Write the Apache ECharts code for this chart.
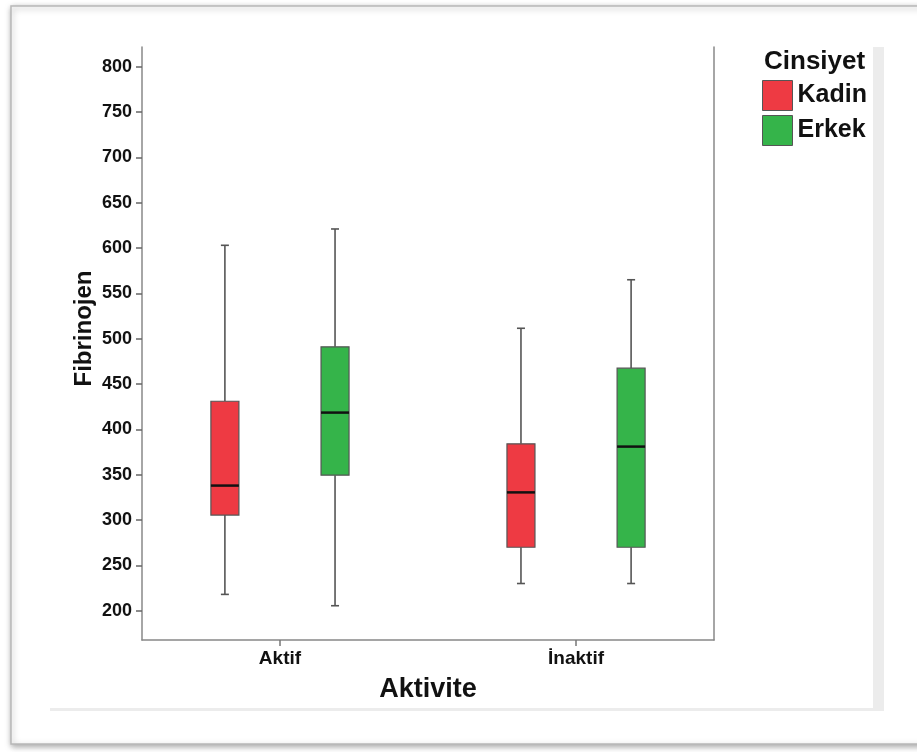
<!DOCTYPE html>
<html>
<head>
<meta charset="utf-8">
<script src="https://cdn.jsdelivr.net/npm/echarts@6/dist/echarts.min.js"></script>
<style>
html,body{margin:0;padding:0;background:#fff;}
#main{width:917px;height:752px;}
</style>
</head>
<body>
<div id="main"></div>
<script>
// ---- data ----
const categories = ['Aktif', 'İnaktif'];
const groups = ['Kadin', 'Erkek'];
// [min, Q1, median, Q3, max] per category
const kadinBoxes = [
  [218, 305.5, 338, 431, 603],
  [230, 270, 330.5, 384, 511.5]
];
const erkekBoxes = [
  [205.5, 349.5, 418.5, 491, 621],
  [230, 270, 381, 467.5, 565]
];
const yTicks = [200, 250, 300, 350, 400, 450, 500, 550, 600, 650, 700, 750, 800];
const groupColors = ['#EE3A43', '#35B44A'];

const FONT = "'Liberation Sans', Arial, sans-serif";
const chart = echarts.init(document.getElementById('main'), null, {renderer: 'canvas'});

function makeRender(offsetUnits) {
  return function (params, api) {
    const i = api.value(0);
    const vMin = api.value(1), q1 = api.value(2), med = api.value(3), q3 = api.value(4), vMax = api.value(5);
    const unit = api.size([1, 0])[0];
    const cx = api.coord([i, 0])[0] + offsetUnits * unit;
    const half = 0.0473 * unit;
    const cap = 4;
    const y = v => api.coord([i, v])[1];
    const color = api.visual('color');
    const lineStyle = {stroke: '#555', lineWidth: 1.6};
    return {
      type: 'group',
      children: [
        {type: 'line', shape: {x1: cx, y1: y(vMax), x2: cx, y2: y(q3)}, style: lineStyle},
        {type: 'line', shape: {x1: cx, y1: y(q1), x2: cx, y2: y(vMin)}, style: lineStyle},
        {type: 'line', shape: {x1: cx - cap, y1: y(vMax), x2: cx + cap, y2: y(vMax)}, style: lineStyle},
        {type: 'line', shape: {x1: cx - cap, y1: y(vMin), x2: cx + cap, y2: y(vMin)}, style: lineStyle},
        {type: 'rect', shape: {x: cx - half, y: y(q3), width: 2 * half, height: y(q1) - y(q3)},
          style: {fill: color, stroke: '#555', lineWidth: 1.2}},
        {type: 'line', shape: {x1: cx - half, y1: y(med), x2: cx + half, y2: y(med)},
          style: {stroke: '#111', lineWidth: 2.5}}
      ]
    };
  };
}

function toData(boxes) {
  return boxes.map((b, i) => [i].concat(b));
}

const option = {
  animation: false,
  textStyle: {fontFamily: FONT},
  graphic: [
    {type: 'rect', z: -10, shape: {x: 11, y: 6, width: 940, height: 738},
      style: {fill: '#fff', stroke: '#b8b8b8', lineWidth: 1.5,
        shadowBlur: 6, shadowColor: 'rgba(0,0,0,0.35)', shadowOffsetX: 1, shadowOffsetY: 2}},
    {type: 'rect', z: -9, shape: {x: 873, y: 47, width: 11, height: 664}, style: {fill: '#ececec'}},
    {type: 'rect', z: -9, shape: {x: 50, y: 708, width: 834, height: 3}, style: {fill: '#ececec'}}
  ],
  title: {
    text: 'Cinsiyet', left: 759, top: 44,
    textStyle: {fontFamily: FONT, fontSize: 26, fontWeight: 'bold', color: '#111'}
  },
  legend: {
    orient: 'vertical', left: 762, top: 80, itemWidth: 30, itemHeight: 30, itemGap: 4,
    padding: 0,
    data: groups.map(g => ({name: g, icon: 'rect'})),
    itemStyle: {borderColor: '#555', borderWidth: 1},
    textStyle: {fontFamily: FONT, fontSize: 25, fontWeight: 'bold', color: '#111', padding: [0, 0, 0, 0]}
  },
  grid: {left: 142, right: 203, top: 47, bottom: 112},
  xAxis: {
    type: 'value', min: -0.466, max: 1.466,
    name: 'Aktivite', nameLocation: 'middle', nameGap: 36, nameMoveOverlap: false,
    nameTextStyle: {fontFamily: FONT, fontSize: 27, fontWeight: 'bold', color: '#111'},
    axisLine: {show: true, onZero: false, lineStyle: {color: '#888', width: 1.5}},
    axisTick: {show: true, customValues: [0, 1], length: 6, lineStyle: {color: '#777', width: 1.5}},
    axisLabel: {show: true, customValues: [0, 1], margin: 9,
      formatter: v => categories[Math.round(v)],
      fontFamily: FONT, fontSize: 19, fontWeight: 'bold', color: '#111'},
    splitLine: {show: false}
  },
  yAxis: [{
    type: 'value', min: 167.7, max: 821.7, position: 'left',
    name: 'Fibrinojen', nameLocation: 'middle', nameGap: 46, nameMoveOverlap: false,
    nameTextStyle: {fontFamily: FONT, fontSize: 24, fontWeight: 'bold', color: '#111', padding: [0, 0, 0, 30]},
    axisLine: {show: true, onZero: false, lineStyle: {color: '#888', width: 1.5}},
    axisTick: {show: true, customValues: yTicks, length: 6, lineStyle: {color: '#666', width: 1.5}},
    axisLabel: {show: true, customValues: yTicks, margin: 10,
      fontFamily: FONT, fontSize: 18, fontWeight: 'bold', color: '#111'},
    splitLine: {show: false}
  }, {
    type: 'value', min: 167.7, max: 821.7, position: 'right',
    axisLine: {show: true, onZero: false, lineStyle: {color: '#888', width: 1.5}},
    axisTick: {show: false}, axisLabel: {show: false}, splitLine: {show: false}
  }],
  series: [
    {
      name: groups[0], type: 'custom', yAxisIndex: 0,
      itemStyle: {color: groupColors[0]},
      renderItem: makeRender(-0.186),
      encode: {x: 0, y: [1, 2, 3, 4, 5]},
      data: toData(kadinBoxes)
    },
    {
      name: groups[1], type: 'custom', yAxisIndex: 0,
      itemStyle: {color: groupColors[1]},
      renderItem: makeRender(0.186),
      encode: {x: 0, y: [1, 2, 3, 4, 5]},
      data: toData(erkekBoxes)
    }
  ]
};
chart.setOption(option);
</script>
</body>
</html>
